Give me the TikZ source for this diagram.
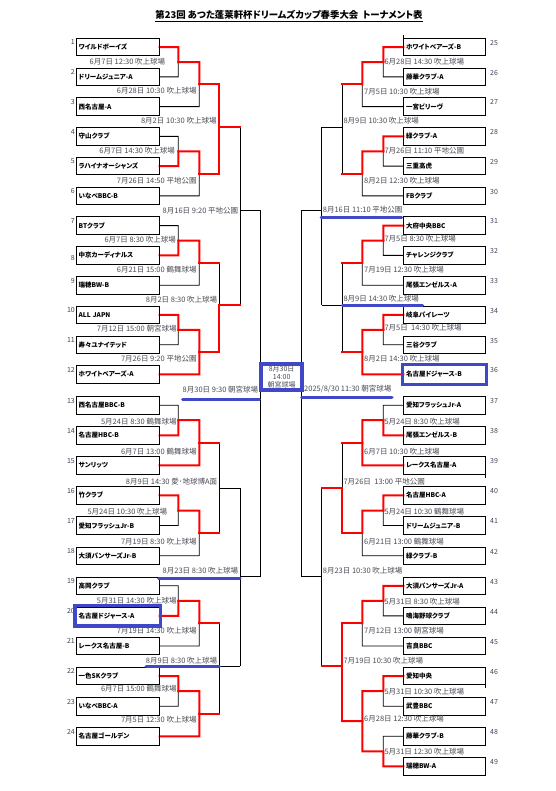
\documentclass[tikz,border=0pt]{standalone}
\usepackage{fontspec}
\setmainfont{Noto Sans CJK JP}[RawFeature={+palt}]
\usetikzlibrary{calc,fit}
\definecolor{hlblue}{RGB}{64,72,200}
\definecolor{lblc}{RGB}{75,75,85}
\definecolor{numc}{RGB}{60,70,90}
\definecolor{winred}{RGB}{255,0,0}
\pgfdeclarelayer{bglayer}
\pgfdeclarelayer{loselayer}
\pgfdeclarelayer{winlayer}
\pgfsetlayers{bglayer,loselayer,winlayer,main}
\tikzset{
 team/.style={draw, line width=0.8pt, anchor=north west, minimum height=17.5pt, inner ysep=0pt, inner xsep=2.3pt, align=left, font=\bfseries\fontsize{6.5}{7.5}\selectfont},
 teamL/.style={team, text width=78.1pt},
 teamR/.style={team, text width=76.8pt},
 lose/.style={draw=black, line width=0.8pt},
 win/.style={draw=winred, line width=2pt, line cap=rect},
 lbl/.style={font=\fontsize{7.5}{8.5}\selectfont, text=lblc, inner sep=0pt},
 lblL/.style={lbl, anchor=east},
 lblR/.style={lbl, anchor=west},
 num/.style={font=\fontsize{7}{8}\selectfont, text=numc, inner sep=0pt},
 hl/.style={draw=hlblue, line width=3pt, line cap=round},
 hlbox/.style={draw=hlblue, line width=3.5pt, inner sep=1pt},
}
\newcommand\seg[2]{\begin{pgfonlayer}{#1layer}\draw[#1] #2;\end{pgfonlayer}}
% left group of three: a b c id s1..s5
\newcommand\Lgrp[9]{%
 \coordinate (#4ab) at ($(#1.east -| XA)!.5!(#2.east -| XA)$);
 \coordinate (#4) at ($(#4ab -| XB)!.5!(#3.east -| XB)$);
 \seg{#5}{(#1.east) -- (#1.east -| XA) -- (#4ab)}
 \seg{#6}{(#2.east) -- (#2.east -| XA) -- (#4ab)}
 \seg{#7}{(#4ab) -- (#4ab -| XB) -- (#4)}
 \seg{#8}{(#3.east) -- (#3.east -| XB) -- (#4)}
 \seg{#9}{(#4) -- (#4 -| XC)}
}
\newcommand\Rgrp[9]{%
 \coordinate (#4ab) at ($(#1.west -| RA)!.5!(#2.west -| RA)$);
 \coordinate (#4) at ($(#4ab -| RB)!.5!(#3.west -| RB)$);
 \seg{#5}{(#1.west) -- (#1.west -| RA) -- (#4ab)}
 \seg{#6}{(#2.west) -- (#2.west -| RA) -- (#4ab)}
 \seg{#7}{(#4ab) -- (#4ab -| RB) -- (#4)}
 \seg{#8}{(#3.west) -- (#3.west -| RB) -- (#4)}
 \seg{#9}{(#4) -- (#4 -| RC)}
}
\begin{document}
\begin{tikzpicture}[x=1pt,y=-1pt]
\useasboundingbox (0,0) rectangle (555,791);
\begin{pgfonlayer}{bglayer}
\fill[white] (0,0) rectangle (555,791);
\end{pgfonlayer}
% title
\node[font=\bfseries\fontsize{9.4}{11}\selectfont, inner sep=0pt] (title) at (289,15) {第23回 あつた蓬莱軒杯ドリームズカップ春季大会\ \ トーナメント表};
\draw[line width=0.6pt] ($(title.south west)+(0,1.5)$) -- ($(title.south east)+(0,1.5)$);
% x positions of bracket lines
\coordinate (XA) at (178.3,0); \coordinate (XB) at (199.3,0); \coordinate (XC) at (219.3,0);
\coordinate (XD) at (240,0);   \coordinate (XE) at (260,0);
\coordinate (RA) at (383.3,0); \coordinate (RB) at (362.3,0); \coordinate (RC) at (342.3,0);
\coordinate (RD) at (321.7,0); \coordinate (RE) at (301,0);
% left teams
\foreach \i/\y/\o/\name in {1/38/7/ワイルドボーイズ, 2/67.75/7/ドリームジュニア-A, 3/97.5/7/西名古屋-A, 4/127.25/7/守山クラブ, 5/157/7/ラハイナオーシャンズ, 6/186.75/7/いなべBBC-B, 7/216.5/7/BTクラブ, 8/246.25/14.5/中京カーディナルス, 9/276/7/瑞穂BW-B, 10/305.75/7/ALL JAPN, 11/335.5/7/寿々ユナイテッド, 12/365.25/7/ホワイトベアーズ-A, 13/396/7/西名古屋BBC-B, 14/426.1/7/名古屋HBC-B, 15/456.2/7/サンリッツ, 16/486.3/7/竹クラブ, 17/516.4/7/愛知フラッシュJr-B, 18/546.5/7/大須パンサーズJr-B, 19/576.6/7/高岡クラブ, 20/606.7/7/名古屋ドジャース-A, 21/636.8/7/レークス名古屋-B, 22/666.9/7/一色SKクラブ, 23/697/7/いなべBBC-A, 24/727.1/7/名古屋ゴールデン}{
 \node[num, anchor=base east] (n\i) at (75,\y+\o) {\i};
 \node[teamL] (t\i) at (76,\y) {\name};
}
% right teams
\foreach \i/\y/\name in {25/38/ホワイトベアーズ-B, 26/67.75/藤華クラブ-A, 27/97.5/一宮ビリーヴ, 28/127.25/緑クラブ-A, 29/157/三重高虎, 30/186.75/FBクラブ, 31/216.5/大府中央BBC, 32/246.25/チャレンジクラブ, 33/276/尾張エンゼルス-A, 34/305.75/岐阜パイレーツ, 35/335.5/三谷クラブ, 36/365.25/名古屋ドジャース-B, 37/396/愛知フラッシュJr-A, 38/426.1/尾張エンゼルス-B, 39/456.2/レークス名古屋-A, 40/486.3/名古屋HBC-A, 41/516.4/ドリームジュニア-B, 42/546.5/緑クラブ-B, 43/576.6/大須パンサーズJr-A, 44/606.7/鳴海野球クラブ, 45/636.8/吉良BBC, 46/666.9/愛知中央, 47/697/武豊BBC, 48/727.1/藤華クラブ-B, 49/757.2/瑞穂BW-A}{
 \node[num, anchor=base west] (n\i) at (490,\y+7.5) {\i};
 \node[teamR] (t\i) at (403.3,\y) {\name};
}
% small ticks at box edges
\draw[lose] (t25.north west) -- ++(0,-3);
\draw[lose] (t39.south east) -- ++(0,3);
\draw[lose] (t46.south east) -- ++(0,3);
% final box
\node[draw=hlblue, line width=4pt, minimum width=40.7pt, minimum height=26pt, inner sep=0pt, align=center, font=\fontsize{7}{8.2}\selectfont, text=lblc] (final) at (281.65,377) {8月30日\\14:00\\朝宮球場};
% left groups
\Lgrp{t1}{t2}{t3}{g1}{win}{lose}{win}{lose}{win}
\Lgrp{t4}{t5}{t6}{g2}{lose}{win}{win}{lose}{win}
\Lgrp{t7}{t8}{t9}{g3}{lose}{win}{win}{lose}{win}
\Lgrp{t10}{t11}{t12}{g4}{win}{lose}{win}{win}{win}
\Lgrp{t13}{t14}{t15}{g5}{lose}{win}{win}{win}{win}
\Lgrp{t16}{t17}{t18}{g6}{win}{lose}{win}{lose}{win}
\Lgrp{t19}{t20}{t21}{g7}{lose}{win}{win}{lose}{win}
\Lgrp{t22}{t23}{t24}{g8}{win}{lose}{win}{win}{win}
% right groups
\Rgrp{t25}{t26}{t27}{g9}{win}{lose}{win}{lose}{win}
\Rgrp{t28}{t29}{t30}{g10}{win}{lose}{win}{lose}{win}
\Rgrp{t31}{t32}{t33}{g11}{win}{lose}{win}{lose}{win}
\Rgrp{t34}{t35}{t36}{g12}{win}{lose}{win}{win}{win}
\Rgrp{t37}{t38}{t39}{g13}{lose}{win}{win}{win}{win}
\Rgrp{t40}{t41}{t42}{g14}{win}{lose}{win}{lose}{win}
\Rgrp{t43}{t44}{t45}{g15}{win}{lose}{win}{lose}{win}
\coordinate (g16a) at ($(t46.west -| RA)!.5!(t47.west -| RA)$);
\coordinate (g16b) at ($(t48.west -| RA)!.5!(t49.west -| RA)$);
\coordinate (g16) at ($(g16a -| RB)!.5!(g16b -| RB)$);
\seg{win}{(t46.west) -- (t46.west -| RA) -- (g16a) -- (g16a -| RB) -- (g16) -- (g16 -| RC)}
\seg{lose}{(t47.west) -- (t47.west -| RA) -- (g16a)}
\seg{lose}{(t48.west) -- (t48.west -| RA) -- (g16b)}
\seg{win}{(t49.west) -- (t49.west -| RA) -- (g16b) -- (g16b -| RB) -- (g16)}
% upper levels, left
\coordinate (Q1) at (219.3,127.3); \coordinate (Q2) at (219.3,304.7);
\coordinate (Q3) at (219.3,488.3); \coordinate (Q4) at (219.3,666);
\coordinate (H1) at (240,210.3);   \coordinate (H2) at (240,576.7);
\seg{win}{(g1 -| XC) -- (Q1) -- (Q1 -| XD)}
\seg{win}{(g2 -| XC) -- (Q1)}
\seg{lose}{(g3 -| XC) -- (Q2)}
\seg{win}{(g4 -| XC) -- (Q2) -- (Q2 -| XD)}
\seg{lose}{(Q1 -| XD) -- (Q2 -| XD)}
\seg{lose}{(H1) -- (H1 -| XE) -- (XE |- final.north)}
\seg{lose}{(g5 -| XC) -- (g6 -| XC)}
\seg{lose}{(Q3) -- (Q3 -| XD)}
\seg{lose}{(g7 -| XC) -- (g8 -| XC)}
\seg{lose}{(Q4) -- (Q4 -| XD)}
\seg{lose}{(Q3 -| XD) -- (Q4 -| XD)}
\seg{lose}{(H2) -- (H2 -| XE) -- (XE |- final.south)}
% upper levels, right
\coordinate (Q5) at (342.3,127.3); \coordinate (Q6) at (342.3,305);
\coordinate (Q7) at (342.3,487.7); \coordinate (Q8) at (342.3,666);
\coordinate (H3) at (321.7,210.3); \coordinate (H4) at (321.7,576.7);
\seg{lose}{(g9 -| RC) -- (g10 -| RC)}
\seg{lose}{(Q5) -- (Q5 -| RD)}
\seg{lose}{(g11 -| RC) -- (g12 -| RC)}
\seg{lose}{(Q6) -- (Q6 -| RD)}
\seg{lose}{(Q5 -| RD) -- (Q6 -| RD)}
\seg{lose}{(H3) -- (H3 -| RE) -- (RE |- final.north)}
\seg{lose}{(g13 -| RC) -- (Q7)}
\seg{win}{(g14 -| RC) -- (Q7) -- (Q7 -| RD)}
\seg{win}{(g15 -| RC) -- (Q8) -- (Q8 -| RD)}
\seg{win}{(g16 -| RC) -- (Q8)}
\seg{lose}{(Q7 -| RD) -- (Q8 -| RD)}
\seg{lose}{(H4) -- (H4 -| RE) -- (RE |- final.south)}
% labels left
\foreach \x/\y/\txt [count=\k] in {165.3/61.6/6月7日 12:30 吹上球場, 196.7/91/6月28日 10:30 吹上球場, 216.7/120.7/8月2日 10:30 吹上球場, 175/150.5/6月7日 14:30 吹上球場, 196.7/180.5/7月26日 14:50 平地公園, 238.3/210.3/8月16日 9:20 平地公園, 176/239.7/6月7日 8:30 吹上球場, 196.7/269.5/6月21日 15:00 鶴舞球場, 217.3/299.3/8月2日 8:30 吹上球場, 176.7/328.8/7月12日 15:00 朝宮球場, 196.7/358.7/7月26日 9:20 平地公園, 258.3/390/8月30日 9:30 朝宮球場, 176.7/421.3/5月24日 8:30 鶴舞球場, 196.7/451.7/6月7日 13:00 鶴舞球場, 217.3/481.3/8月9日 14:30 愛･地球博A面, 167.3/511.7/5月24日 10:30 吹上球場, 196.7/541.7/7月19日 8:30 吹上球場, 238.3/571/8月23日 8:30 吹上球場, 176.7/600.3/5月31日 14:30 吹上球場, 196.7/630.3/7月19日 14:30 吹上球場, 217.3/660.3/8月9日 8:30 吹上球場, 176.7/689/6月7日 15:00 鶴舞球場, 196.7/719.3/7月5日 12:30 吹上球場}{
 \node[lblL] (la\k) at (\x,\y) {\txt};
}
% labels right
\foreach \x/\y/\txt [count=\k] in {384.3/61.7/6月28日 14:30 吹上球場, 364/91.5/7月5日 10:30 吹上球場, 343.3/121/8月9日 10:30 吹上球場, 384.3/151/7月26日 11:10 平地公園, 364/180.7/8月2日 12:30 吹上球場, 322.7/209.5/8月16日 11:10 平地公園, 384.3/239/7月5日 8:30 吹上球場, 364/269.3/7月19日 12:30 吹上球場, 343.3/299/8月9日 14:30 吹上球場, 384.3/328/7月5日\ \ 14:30 吹上球場, 364/358.7/8月2日 14:30 吹上球場, 304/389.5/{2025/8/30 11:30 朝宮球場}, 384.3/421.3/5月24日 8:30 吹上球場, 364/451.7/6月7日 10:30 吹上球場, 343.3/481.3/7月26日\ \ 13:00 平地公園, 384.3/511.7/5月24日 10:30 鶴舞球場, 364/541.7/6月21日 13:00 鶴舞球場, 322.7/571/8月23日 10:30 吹上球場, 384.3/601.7/5月31日 8:30 吹上球場, 364/630.3/7月12日 13:00 朝宮球場, 343.3/660.3/7月19日 10:30 吹上球場, 384.3/691.3/5月31日 10:30 吹上球場, 364/719/6月28日 12:30 吹上球場, 384.3/751.3/5月31日 12:30 吹上球場}{
 \node[lblR] (lb\k) at (\x,\y) {\txt};
}
% blue highlights
\node[hlbox, fit=(t20)] (h20) {};
\node[hlbox, fit=(t36)] (h36) {};
\draw[hl] (182.7,399.3) -- (259.3,399.3);
\draw[hl] (301.7,397) -- (392,397);
\draw[hl] (321,217.3) -- (401.7,217.3);
\draw[hl] (342.3,305.7) -- (422.7,305.7);
\draw[hl] (158.7,578) -- (240,578);
\draw[hl] (146,666.7) -- (219.3,666.7);
\end{tikzpicture}
\end{document}
